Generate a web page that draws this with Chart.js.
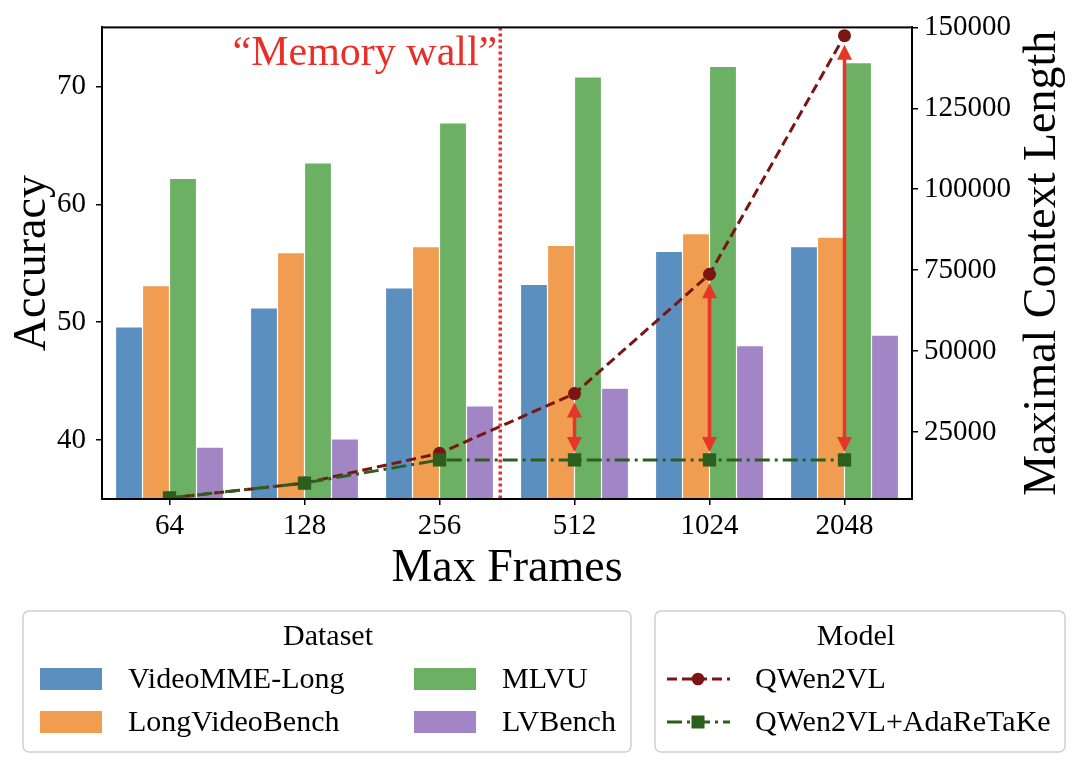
<!DOCTYPE html>
<html>
<head>
<meta charset="utf-8">
<script src="https://cdn.jsdelivr.net/npm/chart.js@4.4.0/dist/chart.umd.min.js"></script>
<style>
  html, body { margin: 0; padding: 0; background: #fff; }
</style>
</head>
<body>
<canvas id="chart" width="1080" height="765"></canvas>
<script>
// data
const frames = ['64', '128', '256', '512', '1024', '2048'];
const videoMMELong = [49.6, 51.2, 52.9, 53.2, 56.0, 56.4];
const longVideoBench = [53.1, 55.9, 56.4, 56.5, 57.5, 57.2];
const mlvu = [62.2, 63.5, 66.9, 70.8, 71.7, 72.0];
const lvBench = [39.4, 40.1, 42.9, 44.4, 48.0, 48.9];
const qwenContext = [4608, 9216, 18432, 36864, 73728, 147456];
const adaContext = [4608, 9216, 16384, 16384, 16384, 16384];
const accTicks = [40, 50, 60, 70];
const ctxTicks = [25000, 50000, 75000, 100000, 125000, 150000];
const arrowFrames = ['512', '1024', '2048'];
const memoryWallAt = 2.45; // category index between 256 and 512

const SERIF = '"Liberation Serif", "DejaVu Serif", serif';
const FAM = 'Liberation Serif';
const arrowRed = '#e8352a';

function barSet(label, data, color) {
  return {
    type: 'bar', label, data,
    backgroundColor: color,
    borderColor: 'rgba(255,255,255,0.2)',
    borderWidth: 0.6,
    yAxisID: 'y', order: 2,
    categoryPercentage: 0.8, barPercentage: 1.0
  };
}

function lineSet(label, data, color, dash, style, radius, order) {
  return {
    type: 'line', label, data,
    borderColor: color, backgroundColor: color,
    borderWidth: 3, borderDash: dash,
    pointStyle: style, pointRadius: radius, pointBorderWidth: 0,
    pointBackgroundColor: color,
    fill: false, tension: 0,
    yAxisID: 'y2', order
  };
}

function roundBox(ctx, x, y, w, h, r) {
  ctx.beginPath();
  ctx.moveTo(x + r, y);
  ctx.lineTo(x + w - r, y);
  ctx.arcTo(x + w, y, x + w, y + r, r);
  ctx.lineTo(x + w, y + h - r);
  ctx.arcTo(x + w, y + h, x + w - r, y + h, r);
  ctx.lineTo(x + r, y + h);
  ctx.arcTo(x, y + h, x, y + h - r, r);
  ctx.lineTo(x, y + r);
  ctx.arcTo(x, y, x + r, y, r);
  ctx.closePath();
  ctx.fillStyle = '#fff';
  ctx.fill();
  ctx.strokeStyle = '#d0d0d0';
  ctx.lineWidth = 1.5;
  ctx.stroke();
}

function arrowHead(ctx, x, tipY, dir) {
  // dir = -1 points up, 1 points down
  ctx.beginPath();
  ctx.moveTo(x, tipY);
  ctx.lineTo(x - 7.5, tipY - dir * 15);
  ctx.lineTo(x + 7.5, tipY - dir * 15);
  ctx.closePath();
  ctx.fill();
}

const decor = {
  id: 'decor',
  afterDatasetsDraw(chart) {
    const { ctx, chartArea: a, scales } = chart;
    ctx.save();

    // memory wall
    const wx = scales.x.getPixelForValue(memoryWallAt);
    ctx.strokeStyle = '#ee2a2a';
    ctx.lineWidth = 3.5;
    ctx.setLineDash([3, 3]);
    ctx.beginPath();
    ctx.moveTo(wx, a.top);
    ctx.lineTo(wx, a.bottom);
    ctx.stroke();
    ctx.setLineDash([]);
    ctx.fillStyle = '#e8302a';
    ctx.font = '42px ' + SERIF;
    ctx.textAlign = 'right';
    ctx.textBaseline = 'alphabetic';
    ctx.fillText('\u201CMemory wall\u201D', wx - 3, 65);

    // gap arrows
    ctx.strokeStyle = arrowRed;
    ctx.fillStyle = arrowRed;
    ctx.lineWidth = 3.5;
    arrowFrames.forEach(f => {
      const i = frames.indexOf(f);
      const x = scales.x.getPixelForValue(i);
      const top = scales.y2.getPixelForValue(qwenContext[i]) + 9;
      const bot = scales.y2.getPixelForValue(adaContext[i]) - 8;
      ctx.beginPath();
      ctx.moveTo(x, top + 12);
      ctx.lineTo(x, bot - 12);
      ctx.stroke();
      arrowHead(ctx, x, top, -1);
      arrowHead(ctx, x, bot, 1);
    });
    ctx.restore();
  },
  afterDraw(chart) {
    const { ctx, chartArea: a } = chart;
    const ds = chart.data.datasets;
    ctx.save();

    // frame
    ctx.strokeStyle = '#000';
    ctx.lineWidth = 2;
    ctx.strokeRect(a.left, a.top, a.right - a.left, a.bottom - a.top);

    // right axis title
    ctx.fillStyle = '#000';
    ctx.font = '46px ' + SERIF;
    ctx.textAlign = 'center';
    ctx.textBaseline = 'alphabetic';
    ctx.translate(1055, (a.top + a.bottom) / 2);
    ctx.rotate(-Math.PI / 2);
    ctx.fillText('Maximal Context Length', 0, 0);
    ctx.setTransform(1, 0, 0, 1, 0, 0);

    // dataset legend
    roundBox(ctx, 23, 611, 608, 141, 6);
    ctx.fillStyle = '#000';
    ctx.font = '30px ' + SERIF;
    ctx.textAlign = 'center';
    ctx.textBaseline = 'middle';
    ctx.fillText('Dataset', 328, 637);
    ctx.textAlign = 'left';
    const colX = [40, 414], rowY = [679, 722];
    [0, 1, 2, 3].forEach(k => {
      const d = ds[k];
      const cx = colX[Math.floor(k / 2)], cy = rowY[k % 2];
      ctx.fillStyle = d.backgroundColor;
      ctx.fillRect(cx, cy - 11, 62, 22);
      ctx.fillStyle = '#000';
      ctx.fillText(d.label, cx + 88, cy + 1);
    });

    // model legend
    roundBox(ctx, 655, 611, 410, 141, 6);
    ctx.fillStyle = '#000';
    ctx.textAlign = 'center';
    ctx.fillText('Model', 856, 637);
    ctx.textAlign = 'left';
    [4, 5].forEach((k, r) => {
      const d = ds[k];
      const cy = rowY[r];
      ctx.strokeStyle = d.borderColor;
      ctx.lineWidth = d.borderWidth;
      ctx.setLineDash(d.borderDash);
      ctx.beginPath();
      ctx.moveTo(667, cy);
      ctx.lineTo(730, cy);
      ctx.stroke();
      ctx.setLineDash([]);
      ctx.fillStyle = d.pointBackgroundColor;
      if (d.pointStyle === 'rect') {
        ctx.fillRect(698 - 6.5, cy - 6.5, 13, 13);
      } else {
        ctx.beginPath();
        ctx.arc(698, cy, 6.3, 0, Math.PI * 2);
        ctx.fill();
      }
      ctx.fillStyle = '#000';
      ctx.fillText(d.label, 755, cy + 1);
    });
    ctx.restore();
  }
};

const tickFont = { family: FAM, size: 29 };
const titleFont = { family: FAM, size: 46 };

new Chart(document.getElementById('chart').getContext('2d'), {
  data: {
    labels: frames,
    datasets: [
      barSet('VideoMME-Long', videoMMELong, '#5b8fc0'),
      barSet('LongVideoBench', longVideoBench, '#f09d51'),
      barSet('MLVU', mlvu, '#6bb063'),
      barSet('LVBench', lvBench, '#a285c5'),
      lineSet('QWen2VL', qwenContext, '#7a1514', [10, 5], 'circle', 6.5, 1),
      lineSet('QWen2VL+AdaReTaKe', adaContext, '#2c5f1d', [15, 5, 3, 5], 'rect', 9.4, 0)
    ]
  },
  options: {
    responsive: false,
    devicePixelRatio: 1,
    animation: false,
    layout: { padding: { left: 0, right: 0, top: 25, bottom: 168 } },
    plugins: { legend: { display: false }, tooltip: { enabled: false } },
    scales: {
      x: {
        type: 'category',
        offset: true,
        grid: { offset: false, drawOnChartArea: false, color: '#000', lineWidth: 1.5, tickLength: 6 },
        border: { color: '#000', width: 2 },
        ticks: { font: tickFont, color: '#000', padding: 4, maxRotation: 0 },
        title: { display: true, text: 'Max Frames', font: titleFont, color: '#000', padding: { top: 0, bottom: 0 } },
        afterFit(s) { s.height = 98; }
      },
      y: {
        position: 'left',
        min: 35, max: 75,
        afterBuildTicks(s) { s.ticks = accTicks.map(v => ({ value: v })); },
        grid: { drawOnChartArea: false, color: '#000', lineWidth: 1.5, tickLength: 6 },
        border: { color: '#000', width: 2 },
        ticks: { font: tickFont, color: '#000', padding: 10 },
        title: { display: true, text: 'Accuracy', font: titleFont, color: '#000', padding: { top: 5, bottom: 0 } },
        afterFit(s) { s.width = 102; }
      },
      y2: {
        position: 'right',
        min: 4300, max: 150000,
        afterBuildTicks(s) { s.ticks = ctxTicks.map(v => ({ value: v })); },
        grid: { drawOnChartArea: false, color: '#000', lineWidth: 1.5, tickLength: 6 },
        border: { color: '#000', width: 2 },
        ticks: { font: tickFont, color: '#000', padding: 6, callback: v => String(v) },
        afterFit(s) { s.width = 168; }
      }
    }
  },
  plugins: [decor]
});
</script>
</body>
</html>
